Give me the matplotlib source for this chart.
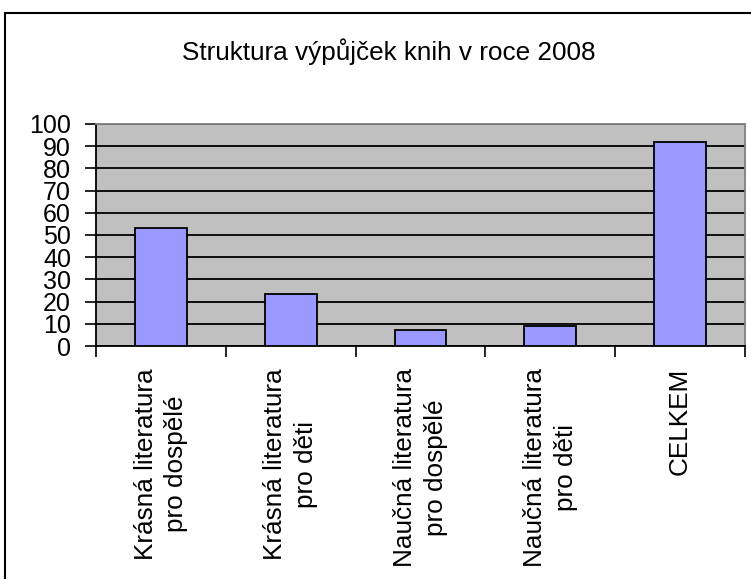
import matplotlib
matplotlib.use('Agg')
import matplotlib.pyplot as plt
from matplotlib.patches import Rectangle

# Data
kategorie = [
    "Krásná literatura\npro dospělé",
    "Krásná literatura\npro děti",
    "Naučná literatura\npro dospělé",
    "Naučná literatura\npro děti",
    "CELKEM",
]
hodnoty = [53.2, 23.4, 7.2, 8.8, 92.0]
yticks = list(range(0, 101, 10))
nazev = "Struktura výpůjček knih v roce 2008"

plt.rcParams['font.family'] = ['Liberation Sans', 'DejaVu Sans']

fig = plt.figure(figsize=(7.51, 5.79), dpi=100)
ax = fig.add_axes([96 / 751, 1 - 346 / 579, (745 - 96) / 751, (346 - 124) / 579])

x = list(range(len(kategorie)))
ax.bar(x, hodnoty, width=0.4, color='#9999FF', edgecolor='black', linewidth=1.3, zorder=3)

ax.set_facecolor('#C0C0C0')
ax.set_xlim(-0.5, len(kategorie) - 0.5)
ax.set_ylim(0, 100)
ax.set_yticks(yticks)
ax.yaxis.grid(True, color='black', linewidth=1.3, zorder=1)
ax.set_axisbelow(True)

# ticks at category boundaries, labels at centres
ax.set_xticks([i + 0.5 for i in range(-1, len(kategorie))])
ax.set_xticklabels([])
ax.set_xticks(x, minor=True)
ax.set_xticklabels(kategorie, minor=True, rotation=90, fontsize=18.8,
                   ha='center', va='top', multialignment='center', linespacing=1.35)
ax.tick_params(axis='x', which='minor', length=0, pad=16)
ax.tick_params(axis='x', which='major', length=8, width=1.2, direction='out')
ax.tick_params(axis='y', length=8, width=1.2, labelsize=18, pad=10)

for s in ['left', 'bottom']:
    ax.spines[s].set_color('black')
    ax.spines[s].set_linewidth(1.3)
for s in ['top', 'right']:
    ax.spines[s].set_color('#808080')
    ax.spines[s].set_linewidth(1.3)

fig.text(389 / 751, 1 - 52 / 579, nazev, ha='center', va='center', fontsize=18.8)

# chart area border
fig.patches.append(Rectangle((5 / 751, -0.1), 1.2, 1 - 13 / 579 + 0.1,
                             transform=fig.transFigure, fill=False,
                             edgecolor='black', linewidth=1.5))

plt.savefig("out.png", dpi=100)
